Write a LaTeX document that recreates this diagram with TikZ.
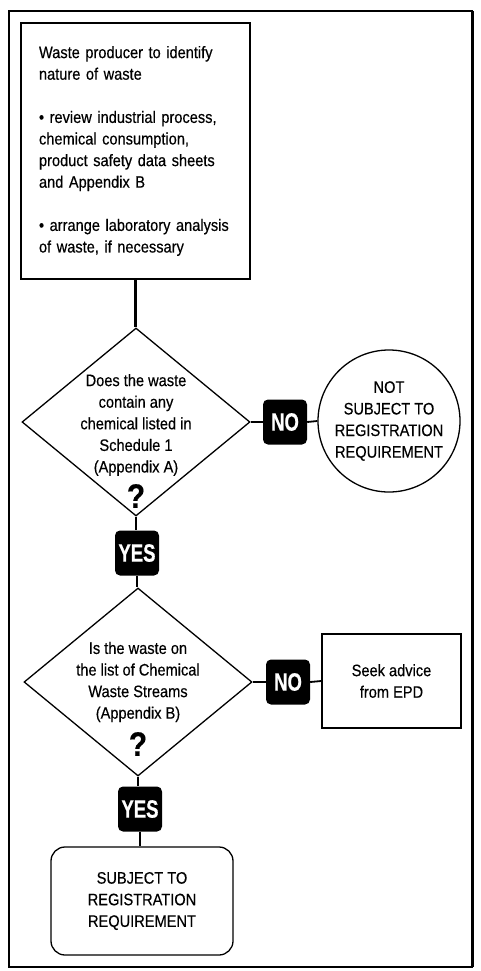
\documentclass[tikz,border=0pt]{standalone}
\usepackage{fontspec}
\setmainfont{Liberation Sans}[FakeStretch=0.88, FakeBold=0.4]
\newfontfamily\tagfont{Liberation Sans}[FakeStretch=0.74, FakeBold=0.6]
\usetikzlibrary{shapes.geometric}
\begin{document}
\begin{tikzpicture}[x=1pt,y=-1pt,
  body/.style={font=\fontsize{16.6}{21.6}\selectfont, inner sep=0pt, align=center},
  box/.style={draw, line width=1.3pt, inner sep=0pt},
  decision/.style={draw, diamond, line width=1.3pt, inner sep=0pt,
    minimum width=228pt, minimum height=188pt},
  tag/.style={fill=black, rounded corners=5pt, inner sep=0pt,
    minimum width=44pt, minimum height=45pt, text=white,
    font=\tagfont\bfseries\fontsize{25}{25}\selectfont},
  query/.style={inner sep=0pt, font=\bfseries\fontsize{34}{34}\selectfont},
  link/.style={line width=1.8pt}]
\useasboundingbox (0,0) rectangle (480,971);

% outer frame
\draw[line width=1.3pt] (9,11) rectangle (472,967);
\draw[line width=3pt] (472,11) -- (472,967);

% first step
\node[box, minimum width=229pt, minimum height=256pt, text width=193pt,
  align=left, font=\fontsize{16.6}{21.6}\selectfont] (src) at (135.5,151)
  {Waste producer to identify\\ nature of waste\\ \mbox{}\\
   • review industrial process,\\ chemical consumption,\\
   product safety data sheets\\ and Appendix B\\ \mbox{}\\
   • arrange laboratory analysis\\ of waste, if necessary};

% first decision
\node[decision] (d1) at (136,422) {};
\node[body] (d1t) at (136,425) {Does the waste\\ contain any\\ chemical listed in\\ Schedule 1\\ (Appendix A)};
\node[query] (d1q) at (136,496) {?};
\node[tag] (no1) at (285,422) {NO};
\node[draw, circle, line width=1.3pt, minimum size=142pt, inner sep=0pt, body] (circ) at (389,421)
  {NOT\\ SUBJECT TO\\ REGISTRATION\\ REQUIREMENT};
\node[tag] (yes1) at (137,553) {YES};

% second decision
\node[decision] (d2) at (138,682) {};
\node[body] (d2t) at (138,682) {Is the waste on\\ the list of Chemical\\ Waste Streams\\ (Appendix B)};
\node[query] (d2q) at (138,744) {?};
\node[tag] (no2) at (288,682) {NO};
\node[box, minimum width=139pt, minimum height=94pt, body] (seek) at (391.5,681)
  {Seek advice\\ from EPD};
\node[tag] (yes2) at (140,809) {YES};
\node[box, rounded corners=14pt, minimum width=182pt, minimum height=108pt, body] (fin) at (142,901)
  {SUBJECT TO\\ REGISTRATION\\ REQUIREMENT};

% connectors
\draw[line width=2.6pt] (src.south) -- (src.south |- d1.north);
\draw[link] (d1.east) -- (no1.west);
\draw[link] (no1.east) -- (circ.west);
\draw[link] (d1.south) -- (d1.south |- yes1.north);
\draw[link] (yes1.south) -- (yes1.south |- d2.north);
\draw[link] (d2.east) -- (no2.west);
\draw[link] (no2.east) -- (seek.west);
\draw[link] (d2.south) -- (d2.south |- yes2.north);
\draw[link] (yes2.south) -- (yes2.south |- fin.north);
\end{tikzpicture}
\end{document}
